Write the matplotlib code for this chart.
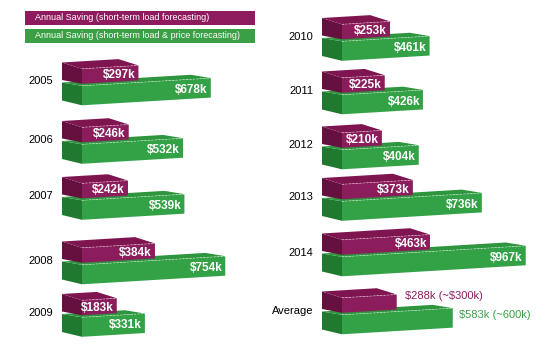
import matplotlib.pyplot as plt
from matplotlib.patches import Polygon, Rectangle

# data ($k)
years_left = ['2005', '2006', '2007', '2008', '2009']
load_left = [297, 246, 242, 384, 183]
price_left = [678, 532, 539, 754, 331]

years_right = ['2010', '2011', '2012', '2013', '2014', 'Average']
load_right = [253, 225, 210, 373, 463, 288]
price_right = [461, 426, 404, 736, 967, 583]

avg_load_text = r'\$288k (~\$300k)'
avg_price_text = r'\$583k (~600k)'

legend_labels = ['Annual Saving (short-term load forecasting)',
                 'Annual Saving (short-term load & price forecasting)']

# layout (pixels)
W, H = 550, 354
S = 0.19          # px per $k
DX = 20           # depth of the boxes
TILT = 0.06       # slight perspective rise to the right
rows_left = [85.5, 144, 200, 264.5, 317]
rows_right = [41, 94.5, 149.5, 201, 256.5, 314.5]

purple = dict(front='#8c1d5c', top='#7e1551', side='#66103f')
green = dict(front='#33a246', top='#2d953d', side='#1f7a30')

plt.rcParams['font.family'] = ['Liberation Sans', 'DejaVu Sans']

fig = plt.figure(figsize=(W / 100, H / 100), dpi=100)


def make_axes(left_px, width_px, start_px):
    ax = fig.add_axes([left_px / W, 0, width_px / W, 1])
    ax.set_xlim(-(start_px - left_px) / S, (left_px + width_px - start_px) / S)
    ax.set_ylim(H, 0)
    ax.axis('off')
    return ax


def pt(x, y):
    # x in $k (0 = start of front face), y in px; apply tilt
    return (x, y - TILT * (x * S + DX))


def box(ax, v, ft, h, dy, bdy, c):
    dx = DX / S
    fb = ft + h
    side = [pt(-dx, ft - dy), pt(0, ft), pt(0, fb), pt(-dx, fb - bdy)]
    top = [pt(-dx, ft - dy), pt(v - dx, ft - dy), pt(v, ft), pt(0, ft)]
    front = [pt(0, ft), pt(v, ft), pt(v, fb), pt(0, fb)]
    ax.add_patch(Polygon(side, closed=True, fc=c['side'], ec='none'))
    ax.add_patch(Polygon(top, closed=True, fc=c['top'], ec='none'))
    ax.add_patch(Polygon(front, closed=True, fc=c['front'], ec='none'))
    xs, ys = zip(pt(0, ft), pt(v, ft))
    ax.plot(xs, ys, color='white', lw=0.5, ls=(0, (3, 2)), alpha=0.6)
    return ft + h / 2


def draw_column(ax, years, loads, prices, rows, label_right):
    for yr, lv, pv, m in zip(years, loads, prices, rows):
        gy = box(ax, pv, m + 1.5, 19.5, 4.5, 6, green)
        py = box(ax, lv, m - 15.5, 15, 7.5, 5, purple)
        ax.text(label_right, m - 4, yr, ha='right', va='center', fontsize=8)
        if yr == 'Average':
            x, y = pt(lv, py - 6)
            ax.text(lv + 8 / S, y, avg_load_text, ha='left', va='center',
                    fontsize=8, color='#8e1b5d')
            x, y = pt(pv, gy - 3)
            ax.text(pv + 6 / S, y, avg_price_text, ha='left', va='center',
                    fontsize=8, color='#3aa046')
        else:
            x, y = pt(lv, py + 2)
            ax.text(lv - 3 / S, y, f'\\${lv}k', ha='right', va='center',
                    fontsize=8.5, fontweight='bold', color='white')
            x, y = pt(pv, gy + 2)
            ax.text(pv - 3 / S, y, f'\\${pv}k', ha='right', va='center',
                    fontsize=8.5, fontweight='bold', color='white')


ax_l = make_axes(0, 275, 82)
ax_r = make_axes(275, 275, 342)

draw_column(ax_l, years_left, load_left, price_left, rows_left, -29 / S)
draw_column(ax_r, years_right, load_right, price_right, rows_right, -29 / S)

# legend
ax_leg = fig.add_axes([0, 0, 1, 1], zorder=-1)
ax_leg.set_xlim(0, W)
ax_leg.set_ylim(H, 0)
ax_leg.axis('off')
for i, (lab, c) in enumerate(zip(legend_labels, ['#8e1b5d', '#3a9f45'])):
    y0 = 11 + i * 18
    ax_leg.add_patch(Rectangle((25, y0), 230, 14, fc=c, ec='none'))
    ax_leg.text(35, y0 + 7, lab, ha='left', va='center', fontsize=6.5,
                color='white')

fig.savefig('out.png', dpi=100)
